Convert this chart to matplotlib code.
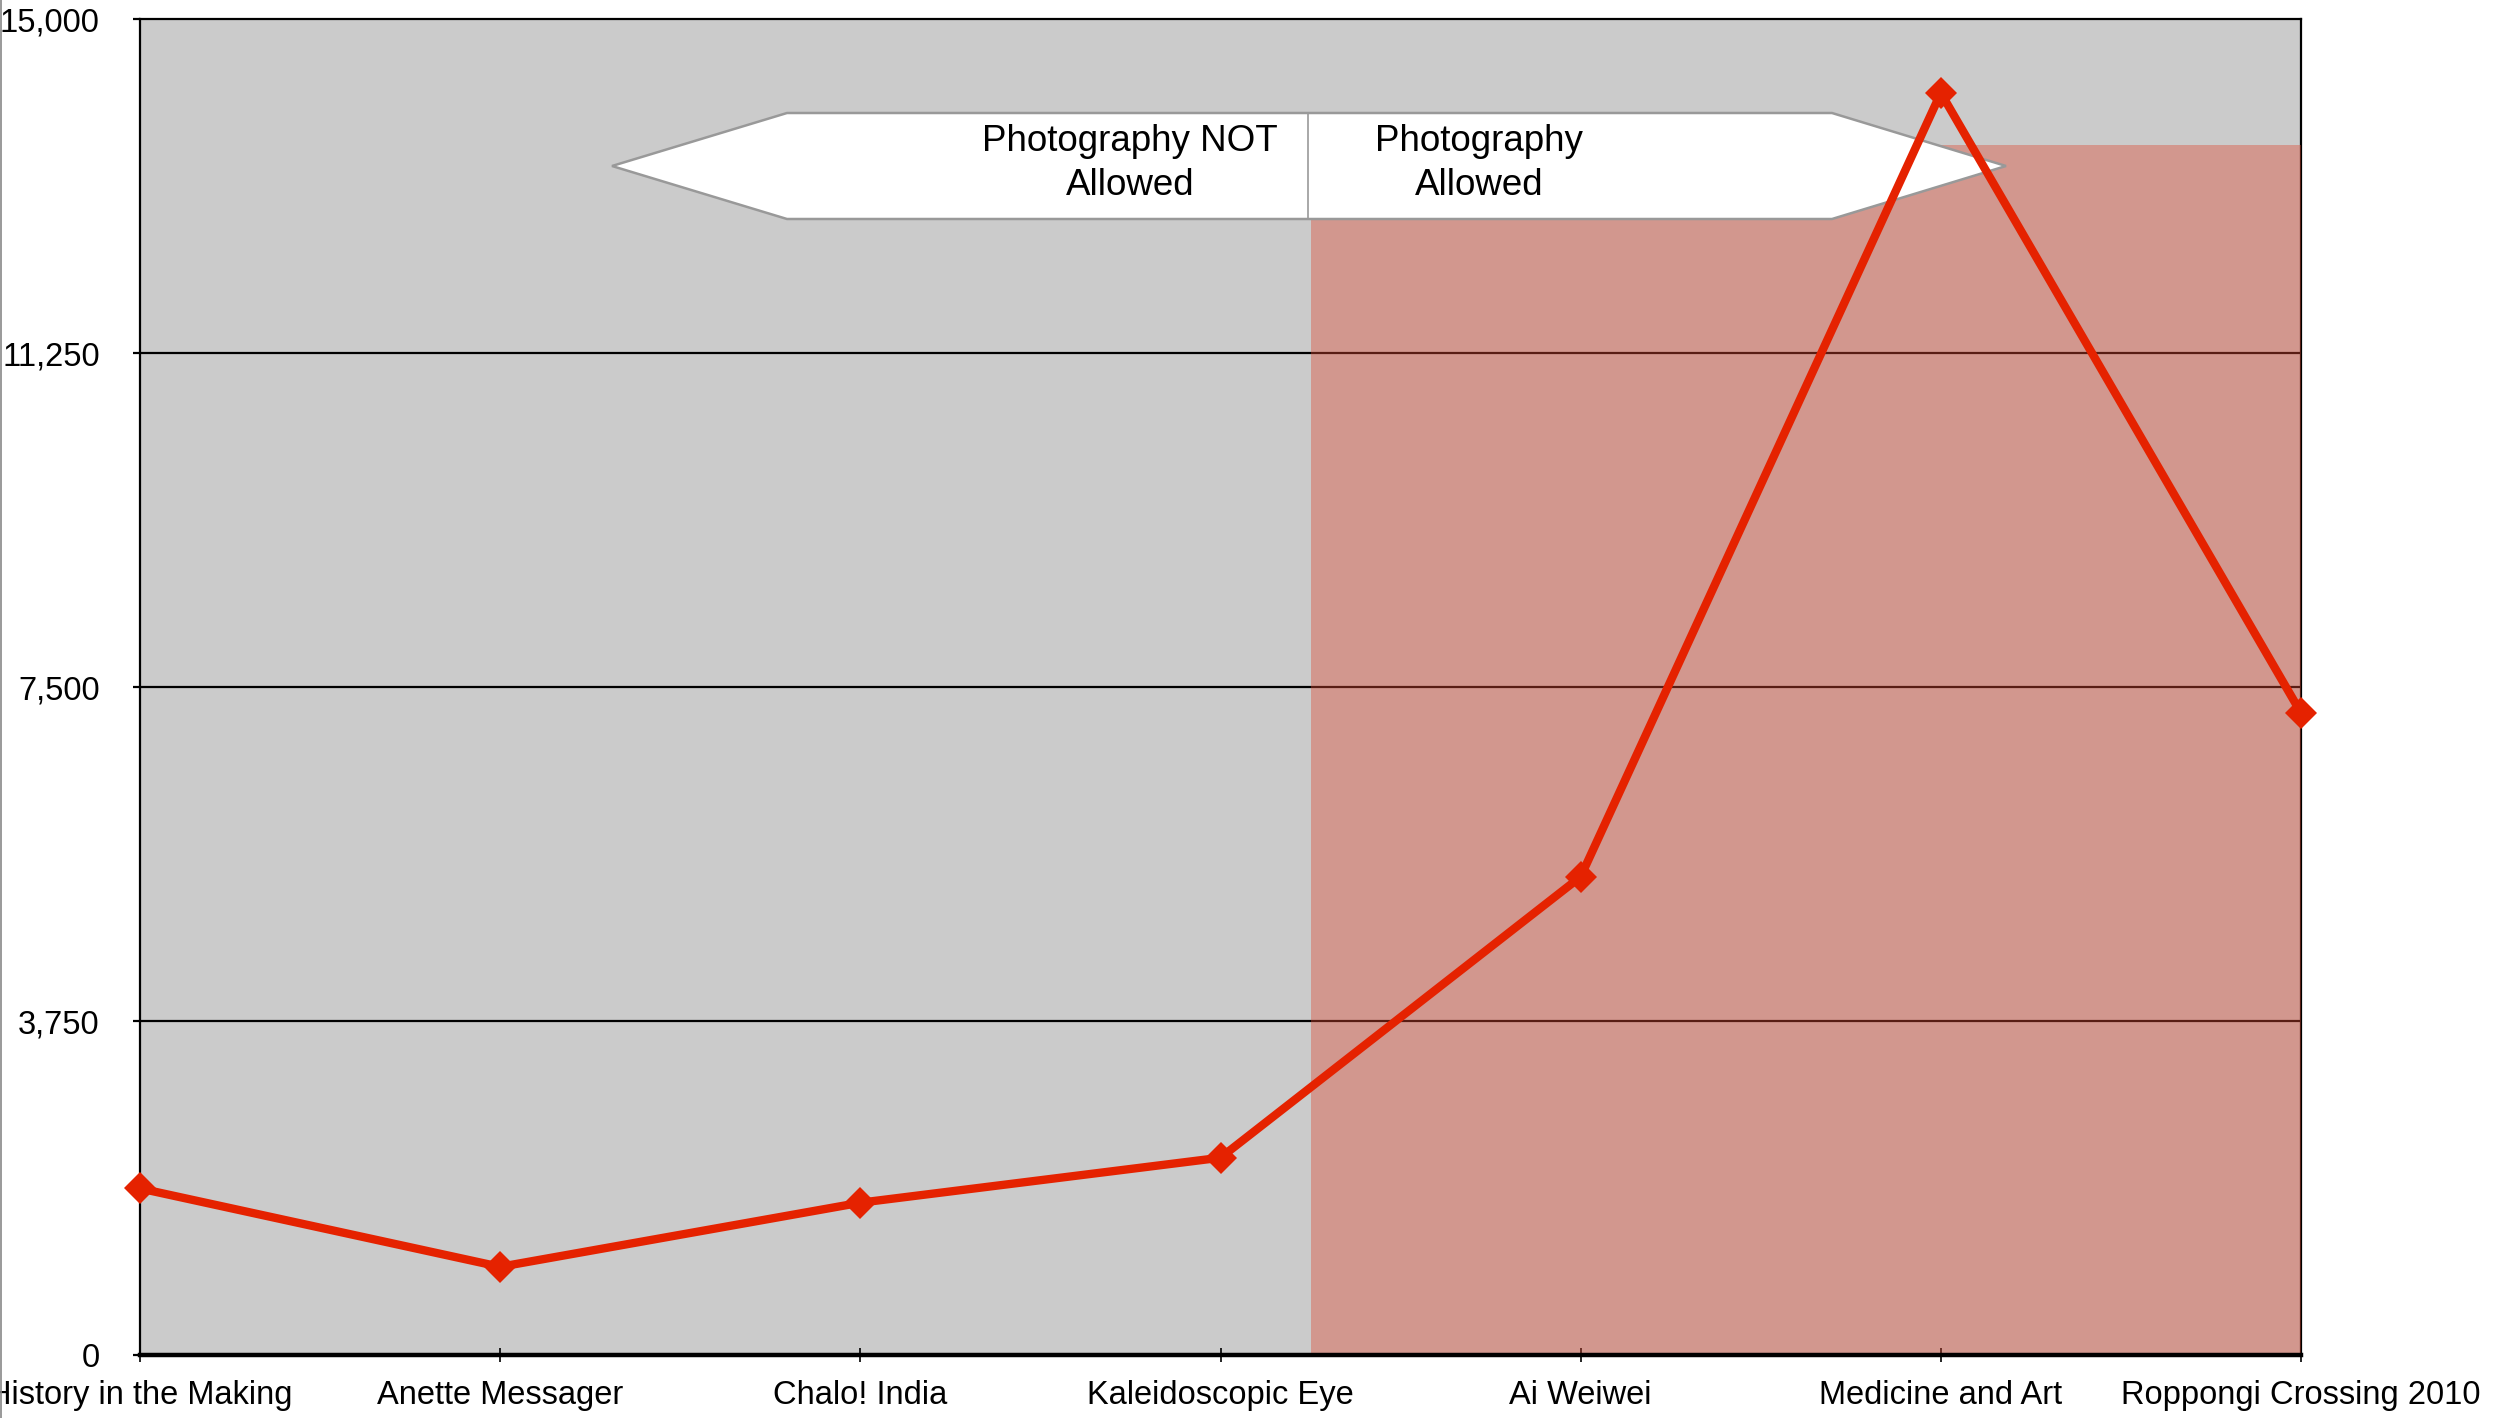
import matplotlib
matplotlib.use("Agg")
import matplotlib.pyplot as plt
from matplotlib.patches import Polygon, Rectangle
from matplotlib.lines import Line2D

plt.rcParams['font.family'] = ['Liberation Sans', 'DejaVu Sans']

# ---- data ----
exhibitions = ["History in the Making", "Anette Messager", "Chalo! India",
               "Kaleidoscopic Eye", "Ai Weiwei", "Medicine and Art",
               "Roppongi Crossing 2010"]
visitors = [1870, 990, 1710, 2215, 5370, 14170, 7210]
y_ticks = [0, 3750, 7500, 11250, 15000]
y_tick_labels = ["0", "3,750", "7,500", "11,250", "15,000"]
label_not_allowed = "Photography NOT\nAllowed"
label_allowed = "Photography\nAllowed"

W, H = 2500, 1418
fig = plt.figure(figsize=(W / 100, H / 100), dpi=100)
ax = fig.add_axes([140 / W, (H - 1355) / H, 2161 / W, 1336 / H])

x = list(range(len(exhibitions)))
ax.set_xlim(0, len(exhibitions) - 1)
ax.set_ylim(0, 15000)
ax.set_facecolor("#cbcbcb")

# gridlines
for yv in y_ticks[1:-1]:
    ax.axhline(yv, color="black", lw=1.6, zorder=1)

# shaded "photography allowed" region (translucent overlay)
ax.add_patch(Rectangle((0.5417, 0), 1 - 0.5417, 0.9057, transform=ax.transAxes,
                       facecolor=(0.87, 0.29, 0.20), alpha=0.4, edgecolor="none",
                       zorder=2, clip_on=False))

# double-headed banner
def ax_pt(px, py):
    return ((px - 140) / 2161, (1355 - py) / 1336)

banner = [ax_pt(612, 166), ax_pt(787, 113), ax_pt(1832, 113),
          ax_pt(2006, 166), ax_pt(1832, 219), ax_pt(787, 219)]
ax.add_patch(Polygon(banner, closed=True, transform=ax.transAxes,
                     facecolor="white", edgecolor="#999999", lw=1.8, zorder=3))
d0 = ax_pt(1308, 113)
d1 = ax_pt(1308, 219)
ax.add_line(Line2D([d0[0], d1[0]], [d0[1], d1[1]], transform=ax.transAxes,
                   color="#999999", lw=1.2, zorder=3.1))
tx1 = ax_pt(1130, 163.5)
ax.text(tx1[0], tx1[1], label_not_allowed, transform=ax.transAxes,
        ha="center", va="center", multialignment="center", fontsize=26.5,
        linespacing=1.35, zorder=4)
tx2 = ax_pt(1479, 163.5)
ax.text(tx2[0], tx2[1], label_allowed, transform=ax.transAxes,
        ha="center", va="center", multialignment="center", fontsize=26.5,
        linespacing=1.35, zorder=4)

# data line
ax.plot(x, visitors, color="#e52200", lw=6, marker="D", markersize=16,
        markeredgewidth=0, zorder=5, clip_on=False, solid_joinstyle="round")

# axes styling
ax.set_xticks(x)
ax.set_xticklabels(exhibitions, fontsize=23.5)
ax.set_yticks(y_ticks)
ax.set_yticklabels(y_tick_labels, fontsize=23.5)
ax.tick_params(axis="x", direction="inout", length=9.5, width=1.2, pad=13, colors="black")
ax.tick_params(axis="y", direction="out", length=5, width=1.6, pad=24, colors="black")

for side in ["left", "top", "right"]:
    ax.spines[side].set_color("black")
    ax.spines[side].set_linewidth(1.6)
    ax.spines[side].set_zorder(1)
ax.spines["bottom"].set_color("black")
ax.spines["bottom"].set_linewidth(3.2)
ax.spines["bottom"].set_zorder(4.5)

# thin gray border at the far left of the image
fig.add_artist(Line2D([0.0004, 0.0004], [0, 1], transform=fig.transFigure,
                      color="#888888", lw=1.2))

fig.savefig("out.png", dpi=100)
